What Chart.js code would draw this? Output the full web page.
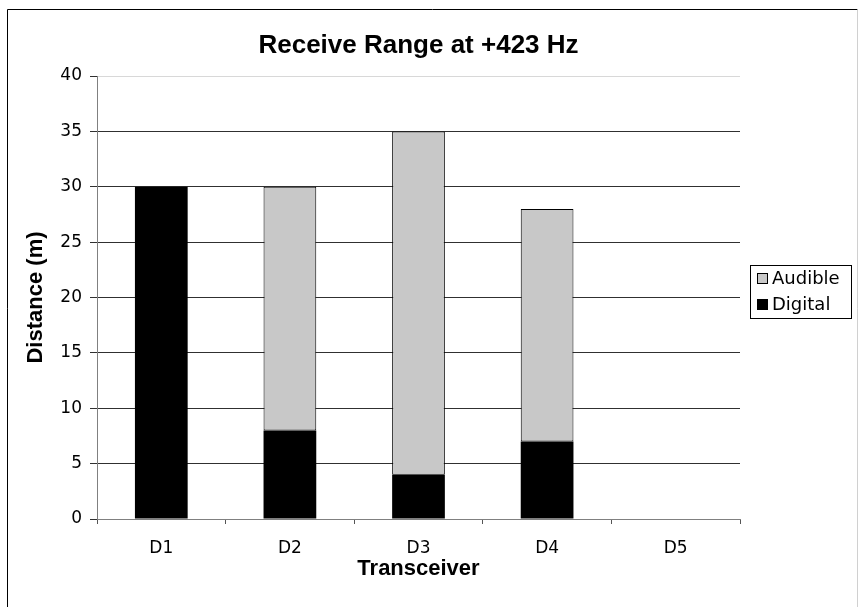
<!DOCTYPE html>
<html>
<head>
<meta charset="utf-8">
<script src="https://cdn.jsdelivr.net/npm/chart.js@4/dist/chart.umd.min.js"></script>
<style>
  html, body { margin: 0; padding: 0; background: #fff; }
  #wrap { width: 860px; height: 607px; }
</style>
</head>
<body>
<div id="wrap"><canvas id="chart" width="860" height="607"></canvas></div>
<script>
const categories = ["D1", "D2", "D3", "D4", "D5"];
const digital = [30, 8, 4, 7, 0];
const audible = [0, 22, 31, 21, 0];
const yTicks = [0, 5, 10, 15, 20, 25, 30, 35, 40];

const chartTitle = "Receive Range at +423 Hz";

// frame, title and legend box drawn by hand to match the original layout
const decorations = {
    id: "decorations",
    beforeDraw(chart) {
        const ctx = chart.ctx;
        ctx.save();
        ctx.fillStyle = "#fff";
        ctx.fillRect(0, 0, chart.width, chart.height);
        ctx.lineWidth = 1;
        ctx.strokeStyle = "#000";
        ctx.beginPath();
        ctx.moveTo(7.5, chart.height);
        ctx.lineTo(7.5, 9.5);
        ctx.lineTo(857.5, 9.5);
        ctx.stroke();
        ctx.strokeStyle = "#d0d0d0";
        ctx.beginPath();
        ctx.moveTo(857.5, 9.5);
        ctx.lineTo(857.5, chart.height);
        ctx.stroke();
        ctx.restore();
    },
    afterDraw(chart) {
        const ctx = chart.ctx;
        const area = chart.chartArea;
        ctx.save();
        ctx.fillStyle = "#000";
        ctx.font = "bold 26px 'Liberation Sans', Arial, sans-serif";
        ctx.textAlign = "center";
        ctx.textBaseline = "middle";
        ctx.fillText(chartTitle, (area.left + area.right) / 2, 46);

        // legend
        ctx.lineWidth = 1;
        ctx.strokeStyle = "#000";
        ctx.strokeRect(750.5, 265.5, 101, 53);
        const items = chart.data.datasets.slice().reverse();
        ctx.font = "18px 'DejaVu Sans', Verdana, sans-serif";
        ctx.textAlign = "left";
        items.forEach((ds, i) => {
            const y = 279 + i * 26;
            ctx.fillStyle = ds.backgroundColor;
            ctx.fillRect(757.5, y - 5.5, 10, 10);
            ctx.strokeRect(757.5, y - 5.5, 10, 10);
            ctx.fillStyle = "#000";
            ctx.fillText(ds.label, 772, y);
        });
        ctx.restore();
    }
};

const data = {
    labels: categories,
    datasets: [
        {
            label: "Digital",
            data: digital,
            backgroundColor: "#000000",
            borderColor: "#000000",
            borderWidth: 0,
        },
        {
            label: "Audible",
            data: audible,
            backgroundColor: "#c8c8c8",
            borderColor: "#000000",
            borderWidth: (c) => (c.raw > 0 ? 1 : 0),
            borderSkipped: false,
        }
    ]
};

const config = {
    type: "bar",
    data: data,
    options: {
        responsive: false,
        animation: false,
        devicePixelRatio: 1,
        layout: { padding: { top: 76, left: 0, right: 120, bottom: 0 } },
        datasets: {
            bar: { categoryPercentage: 1, barPercentage: 0.41 }
        },
        plugins: {
            legend: { display: false },
            title: { display: false },
            tooltip: { enabled: false },
        },
        scales: {
            x: {
                stacked: true,
                afterFit: (scale) => { scale.height = 88; },
                grid: {
                    display: true,
                    drawOnChartArea: false,
                    drawTicks: true,
                    tickLength: 5,
                    offset: true,
                    color: "#555",
                },
                border: { display: true, color: "#808080", width: 1 },
                ticks: {
                    color: "#000",
                    padding: 14,
                    font: { family: "'DejaVu Sans', Verdana, sans-serif", size: 17 },
                },
                title: {
                    display: true,
                    text: "Transceiver",
                    color: "#000",
                    font: { family: "'Liberation Sans', Arial, sans-serif", size: 22, weight: "bold" },
                    padding: { top: 0, bottom: 25 },
                },
            },
            y: {
                stacked: true,
                min: 0,
                max: 40,
                afterFit: (scale) => { scale.width = 97; },
                afterBuildTicks: (scale) => { scale.ticks = yTicks.map(v => ({ value: v })); },
                grid: {
                    color: (c) => (c.tick && c.tick.value === 40 ? "#d8d8d8" : "#303030"),
                    tickColor: "#303030",
                    tickLength: 7,
                },
                border: { display: true, color: "#808080", width: 1 },
                ticks: {
                    color: "#000",
                    padding: 8,
                    font: { family: "'DejaVu Sans', Verdana, sans-serif", size: 17 },
                },
                title: {
                    display: true,
                    text: "Distance (m)",
                    color: "#000",
                    font: { family: "'Liberation Sans', Arial, sans-serif", size: 22, weight: "bold" },
                    padding: { top: 23, bottom: 0 },
                },
            }
        }
    },
    plugins: [decorations]
};

new Chart(document.getElementById("chart"), config);
</script>
</body>
</html>
